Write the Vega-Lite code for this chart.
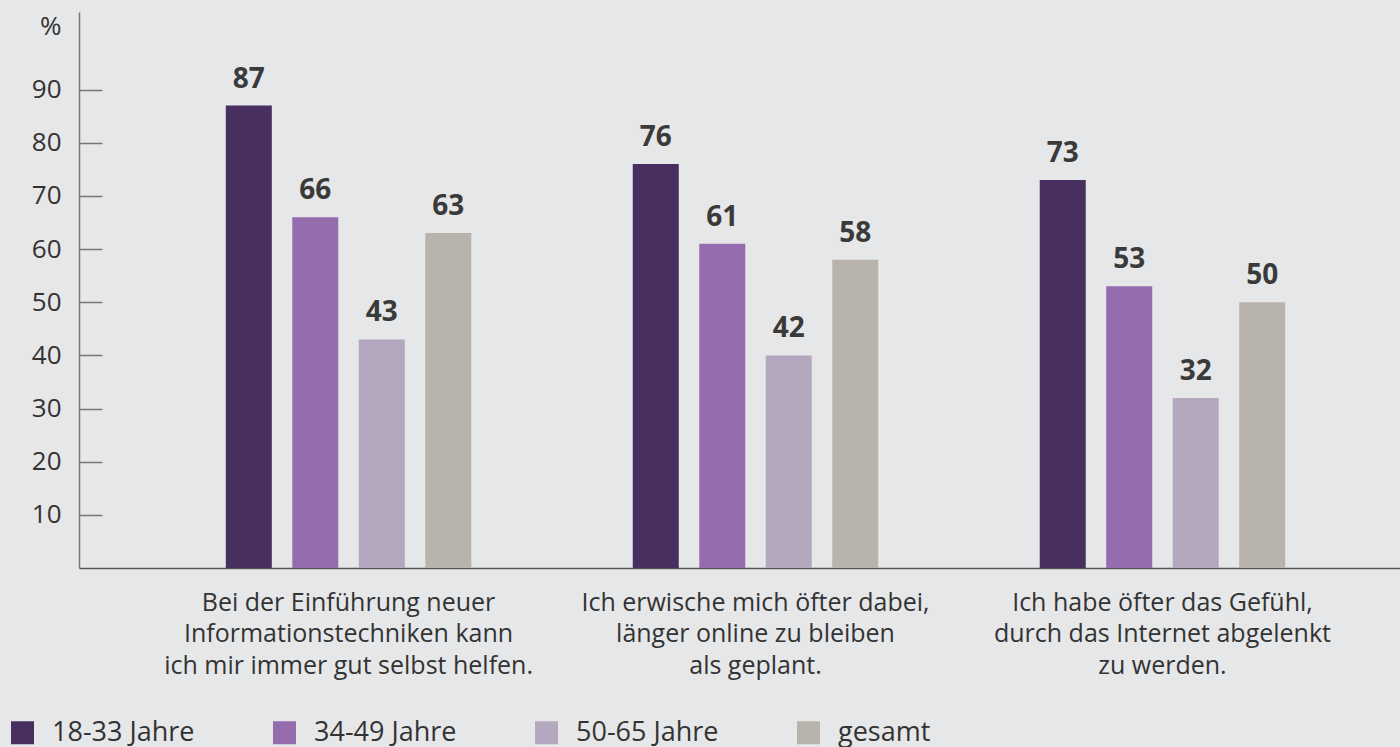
{
  "$schema": "https://vega.github.io/schema/vega-lite/v6.json",
  "autosize": {"type": "none"},
  "width": 1321,
  "height": 556,
  "padding": {"left": 79, "top": 12, "right": 0, "bottom": 179},
  "background": "#e6e7e9",
  "config": {
    "view": {"stroke": null},
    "font": "Open Sans",
    "text": {"font": "Open Sans"}
  },
  "data": {
    "values": [
      {"group": "Bei der Einführung neuer|Informationstechniken kann|ich mir immer gut selbst helfen.", "age": "18-33 Jahre", "value": 87, "label": "87"},
      {"group": "Bei der Einführung neuer|Informationstechniken kann|ich mir immer gut selbst helfen.", "age": "34-49 Jahre", "value": 66, "label": "66"},
      {"group": "Bei der Einführung neuer|Informationstechniken kann|ich mir immer gut selbst helfen.", "age": "50-65 Jahre", "value": 43, "label": "43"},
      {"group": "Bei der Einführung neuer|Informationstechniken kann|ich mir immer gut selbst helfen.", "age": "gesamt", "value": 63, "label": "63"},
      {"group": "Ich erwische mich öfter dabei,|länger online zu bleiben|als geplant.", "age": "18-33 Jahre", "value": 76, "label": "76"},
      {"group": "Ich erwische mich öfter dabei,|länger online zu bleiben|als geplant.", "age": "34-49 Jahre", "value": 61, "label": "61"},
      {"group": "Ich erwische mich öfter dabei,|länger online zu bleiben|als geplant.", "age": "50-65 Jahre", "value": 40, "label": "42"},
      {"group": "Ich erwische mich öfter dabei,|länger online zu bleiben|als geplant.", "age": "gesamt", "value": 58, "label": "58"},
      {"group": "Ich habe öfter das Gefühl,|durch das Internet abgelenkt|zu werden.", "age": "18-33 Jahre", "value": 73, "label": "73"},
      {"group": "Ich habe öfter das Gefühl,|durch das Internet abgelenkt|zu werden.", "age": "34-49 Jahre", "value": 53, "label": "53"},
      {"group": "Ich habe öfter das Gefühl,|durch das Internet abgelenkt|zu werden.", "age": "50-65 Jahre", "value": 32, "label": "32"},
      {"group": "Ich habe öfter das Gefühl,|durch das Internet abgelenkt|zu werden.", "age": "gesamt", "value": 50, "label": "50"}
    ]
  },
  "encoding": {
    "x": {
      "field": "group",
      "type": "nominal",
      "sort": null,
      "scale": {"paddingInner": 0.07, "paddingOuter": 0.158, "align": 0.6245},
      "axis": {
        "title": null,
        "labelAngle": 0,
        "labelExpr": "split(datum.label, '|')",
        "labelFont": "Open Sans",
        "labelFontSize": 25,
        "labelLineHeight": 31.5,
        "labelColor": "#333333",
        "labelPadding": 22,
        "ticks": false,
        "domainColor": "#555555",
        "domainWidth": 1.5,
        "labelLimit": 0
      }
    },
    "xOffset": {
      "field": "age",
      "type": "nominal",
      "sort": null,
      "scale": {"paddingInner": 0.308, "paddingOuter": 1}
    },
    "y": {
      "field": "value",
      "type": "quantitative",
      "scale": {"domain": [0, 104.6], "nice": false},
      "axis": {
        "title": "%",
        "titleAngle": 0,
        "titleAlign": "right",
        "titleBaseline": "alphabetic",
        "titleX": -18,
        "titleY": 22,
        "titleFont": "Open Sans",
        "titleFontSize": 26,
        "titleFontWeight": "normal",
        "titleColor": "#333333",
        "values": [10, 20, 30, 40, 50, 60, 70, 80, 90],
        "tickSize": -23,
        "tickColor": "#777777",
        "tickWidth": 1.5,
        "domainColor": "#777777",
        "domainWidth": 1.5,
        "grid": false,
        "labelFont": "Open Sans",
        "labelFontSize": 26,
        "labelColor": "#333333",
        "labelPadding": 41
      }
    }
  },
  "layer": [
    {
      "mark": {"type": "bar", "width": {"band": 1}},
      "encoding": {
        "color": {
          "field": "age",
          "type": "nominal",
          "sort": null,
          "scale": {
            "domain": ["18-33 Jahre", "34-49 Jahre", "50-65 Jahre", "gesamt"],
            "range": ["#472f60", "#956daf", "#b4a8bf", "#b8b3ad"]
          },
          "legend": {
            "title": null,
            "orient": "none",
            "direction": "horizontal",
            "columns": 4,
            "gridAlign": "all",
            "legendX": -70,
            "legendY": 707,
            "symbolType": "square",
            "symbolSize": 529,
            "symbolStrokeWidth": 0,
            "labelFont": "Open Sans",
            "labelFontSize": 27,
            "labelColor": "#333333",
            "labelOffset": 16,
            "columnPadding": 76,
            "padding": 0,
            "labelLimit": 0
          }
        }
      }
    },
    {
      "mark": {"type": "text", "baseline": "alphabetic", "dy": -18, "fontSize": 28, "fontWeight": "bold", "color": "#3a3a3a", "font": "Open Sans"},
      "encoding": {
        "text": {"field": "label", "type": "nominal"}
      }
    }
  ]
}
